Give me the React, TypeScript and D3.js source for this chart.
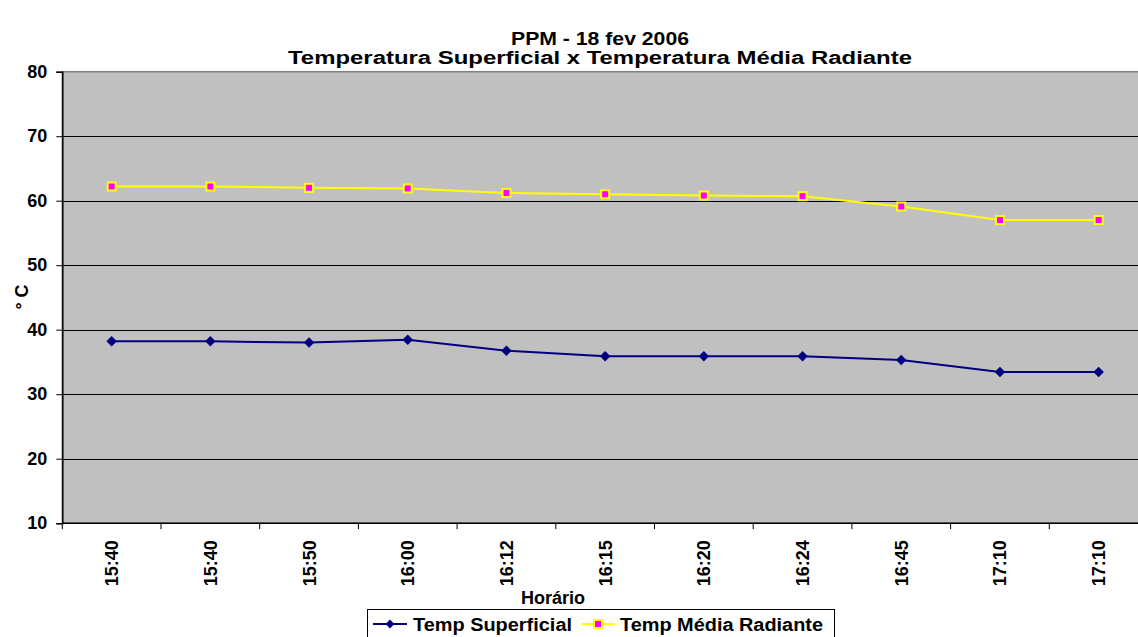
import * as d3 from "d3";
import { useEffect, useRef } from "react";

const categories = ["15:40", "15:40", "15:50", "16:00", "16:12", "16:15", "16:20", "16:24", "16:45", "17:10", "17:10"];
const tempSuperficial = [38.2, 38.2, 38.0, 38.45, 36.75, 35.9, 35.9, 35.9, 35.3, 33.45, 33.45];
const tempMediaRadiante = [62.2, 62.2, 62.0, 61.9, 61.2, 61.0, 60.8, 60.7, 59.1, 57.0, 57.0];
const yTicks = [10, 20, 30, 40, 50, 60, 70, 80];

const W = 1138;
const H = 637;
const font = "'Liberation Sans', Arial, sans-serif";

export default function App() {
  const ref = useRef<SVGSVGElement>(null);

  useEffect(() => {
    if (!ref.current) return;
    const svg = d3.select(ref.current);
    svg.selectAll("*").remove();

    const margin = { top: 71.7, left: 62.3 };
    const plotW = 98.7 * categories.length;
    const plotH = 451.5;

    const x = d3
      .scaleBand<number>()
      .domain(categories.map((_, i) => i))
      .range([margin.left, margin.left + plotW]);
    const y = d3.scaleLinear().domain([10, 80]).range([margin.top + plotH, margin.top]);

    // plot area
    svg
      .append("rect")
      .attr("x", margin.left)
      .attr("y", margin.top)
      .attr("width", plotW)
      .attr("height", plotH)
      .attr("fill", "#c0c0c0")
      .attr("stroke", "#808080")
      .attr("stroke-width", 1.5);

    // gridlines
    svg
      .append("g")
      .selectAll("line")
      .data(yTicks.slice(1, -1))
      .join("line")
      .attr("x1", margin.left)
      .attr("x2", margin.left + plotW)
      .attr("y1", (d) => Math.round(y(d)) + 0.5)
      .attr("y2", (d) => Math.round(y(d)) + 0.5)
      .attr("stroke", "#000")
      .attr("stroke-width", 1);

    // y axis
    const yAxis = svg
      .append("g")
      .attr("transform", `translate(${margin.left},0)`)
      .call(d3.axisLeft(y).tickValues(yTicks).tickSize(6).tickPadding(9));
    yAxis.select(".domain").attr("stroke", "#000").attr("stroke-width", 1.5);
    yAxis.selectAll("line").attr("stroke", "#000");
    yAxis
      .selectAll("text")
      .style("font-family", font)
      .style("font-size", "18px")
      .style("font-weight", "bold")
      .attr("fill", "#000");

    // x axis
    const xBottom = y(10);
    svg
      .append("line")
      .attr("x1", margin.left)
      .attr("x2", margin.left + plotW)
      .attr("y1", xBottom)
      .attr("y2", xBottom)
      .attr("stroke", "#000")
      .attr("stroke-width", 1.5);
    svg
      .append("g")
      .selectAll("line")
      .data(d3.range(categories.length + 1))
      .join("line")
      .attr("x1", (i) => margin.left + i * x.bandwidth())
      .attr("x2", (i) => margin.left + i * x.bandwidth())
      .attr("y1", xBottom)
      .attr("y2", xBottom + 6)
      .attr("stroke", "#000");
    svg
      .append("g")
      .selectAll("text")
      .data(categories)
      .join("text")
      .attr("transform", (_, i) => `translate(${(x(i) ?? 0) + x.bandwidth() / 2 + 6.5},${xBottom + 17}) rotate(-90)`)
      .attr("text-anchor", "end")
      .style("font-family", font)
      .style("font-size", "18px")
      .style("font-weight", "bold")
      .text((d) => d);

    // titles
    svg
      .append("text")
      .attr("x", 511)
      .attr("y", 45)
      .attr("textLength", 178)
      .attr("lengthAdjust", "spacingAndGlyphs")
      .style("font-family", font)
      .style("font-size", "18px")
      .style("font-weight", "bold")
      .text("PPM - 18 fev 2006");
    svg
      .append("text")
      .attr("x", 288)
      .attr("y", 64)
      .attr("textLength", 624)
      .attr("lengthAdjust", "spacingAndGlyphs")
      .style("font-family", font)
      .style("font-size", "18px")
      .style("font-weight", "bold")
      .text("Temperatura Superficial x Temperatura Média Radiante");

    svg
      .append("text")
      .attr("x", 553)
      .attr("y", 604)
      .attr("text-anchor", "middle")
      .style("font-family", font)
      .style("font-size", "18px")
      .style("font-weight", "bold")
      .text("Horário");

    svg
      .append("text")
      .attr("transform", `translate(28,297) rotate(-90)`)
      .attr("text-anchor", "middle")
      .style("font-family", font)
      .style("font-size", "18px")
      .style("font-weight", "bold")
      .text("° C");

    const cx = (i: number) => (x(i) ?? 0) + x.bandwidth() / 2;
    const line = d3
      .line<number>()
      .x((_, i) => cx(i))
      .y((d) => y(d));

    // Temp Superficial
    svg
      .append("path")
      .datum(tempSuperficial)
      .attr("d", line)
      .attr("fill", "none")
      .attr("stroke", "#000080")
      .attr("stroke-width", 2);
    const diamond = d3.symbol().type(d3.symbolDiamond2).size(70);
    svg
      .append("g")
      .selectAll("path")
      .data(tempSuperficial)
      .join("path")
      .attr("d", diamond)
      .attr("transform", (d, i) => `translate(${cx(i)},${y(d)})`)
      .attr("fill", "#000080");

    // Temp Média Radiante
    svg
      .append("path")
      .datum(tempMediaRadiante)
      .attr("d", line)
      .attr("fill", "none")
      .attr("stroke", "#ffff00")
      .attr("stroke-width", 2);
    svg
      .append("g")
      .selectAll("rect")
      .data(tempMediaRadiante)
      .join("rect")
      .attr("x", (_, i) => cx(i) - 4)
      .attr("y", (d) => y(d) - 4)
      .attr("width", 8)
      .attr("height", 8)
      .attr("fill", "#ff00ff")
      .attr("stroke", "#ffff00")
      .attr("stroke-width", 2);

    // legend
    const lg = svg.append("g");
    lg.append("rect")
      .attr("x", 367.5)
      .attr("y", 609.5)
      .attr("width", 467)
      .attr("height", 40)
      .attr("fill", "#fff")
      .attr("stroke", "#000")
      .attr("stroke-width", 1);
    const ly = 624;
    lg.append("line").attr("x1", 373).attr("x2", 407).attr("y1", ly).attr("y2", ly).attr("stroke", "#000080").attr("stroke-width", 2);
    lg.append("path").attr("d", d3.symbol().type(d3.symbolDiamond2).size(50)).attr("transform", `translate(390,${ly})`).attr("fill", "#000080");
    lg.append("text")
      .attr("x", 413)
      .attr("y", 631)
      .attr("textLength", 159)
      .attr("lengthAdjust", "spacingAndGlyphs")
      .style("font-family", font)
      .style("font-size", "18px")
      .style("font-weight", "bold")
      .text("Temp Superficial");
    lg.append("line").attr("x1", 582).attr("x2", 615).attr("y1", ly).attr("y2", ly).attr("stroke", "#ffff00").attr("stroke-width", 2);
    lg.append("rect").attr("x", 594).attr("y", ly - 4).attr("width", 8).attr("height", 8).attr("fill", "#ff00ff").attr("stroke", "#ffff00").attr("stroke-width", 2);
    lg.append("text")
      .attr("x", 620)
      .attr("y", 631)
      .attr("textLength", 203)
      .attr("lengthAdjust", "spacingAndGlyphs")
      .style("font-family", font)
      .style("font-size", "18px")
      .style("font-weight", "bold")
      .text("Temp Média Radiante");
  }, []);

  return (
    <svg
      ref={ref}
      width={W}
      height={H}
      style={{ position: "absolute", left: 0, top: 0, background: "#fff" }}
    />
  );
}
